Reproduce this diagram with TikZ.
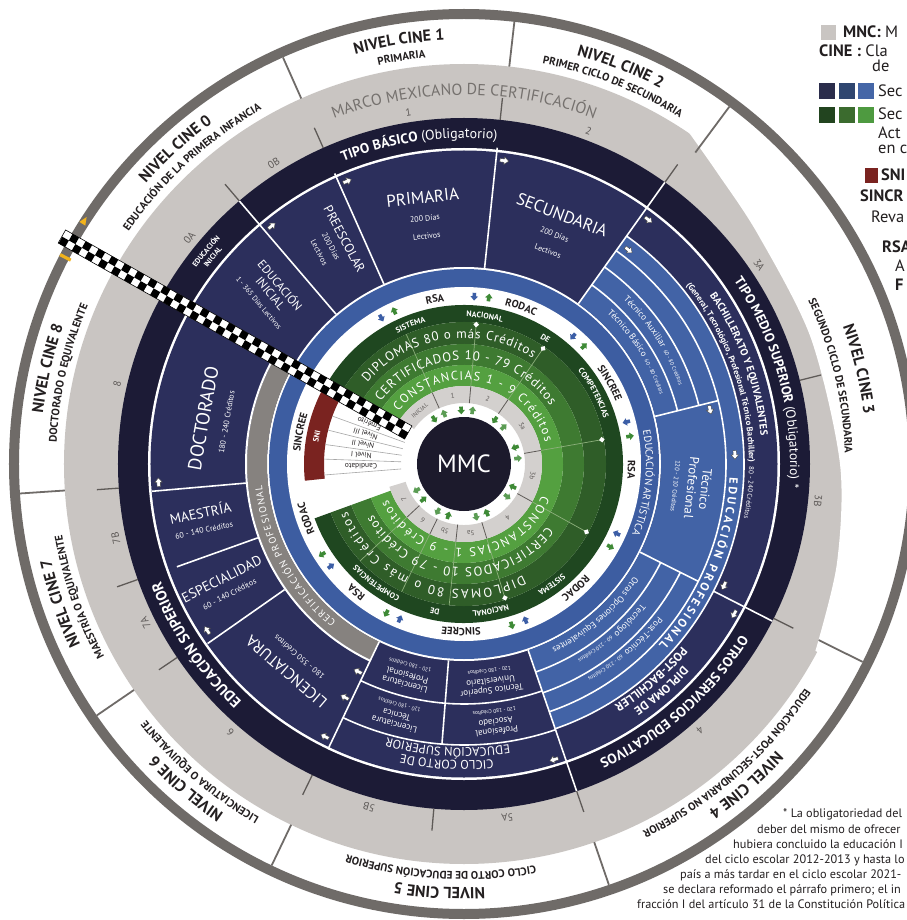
\documentclass[tikz,border=0pt]{standalone}
\usepackage{fontspec}
\setmainfont{PT Sans}
\usetikzlibrary{decorations.text}
\definecolor{ringgray}{HTML}{6F6B68}
\definecolor{lgray}{HTML}{C9C5C2}
\definecolor{sepgray}{HTML}{5E5A57}
\definecolor{tipo}{HTML}{1C1B36}
\definecolor{navy}{HTML}{2C2F5C}
\definecolor{blueA}{HTML}{3D5DA1}
\definecolor{blueB}{HTML}{4263A6}
\definecolor{certgray}{HTML}{86827F}
\definecolor{gsis}{HTML}{1F4720}
\definecolor{gdip}{HTML}{2F5D28}
\definecolor{gcer}{HTML}{3E7A31}
\definecolor{gcon}{HTML}{54A040}
\definecolor{inring}{HTML}{D3D0CE}
\definecolor{mmcc}{HTML}{1C1A2C}
\definecolor{snired}{HTML}{7A2320}
\definecolor{txtdark}{HTML}{231F20}
\definecolor{numgray}{HTML}{5D5957}
\definecolor{marcogray}{HTML}{75716E}
\definecolor{arrblue}{HTML}{3C5EA6}
\definecolor{arrgreen}{HTML}{3E8A36}
\definecolor{glight}{HTML}{8DB07C}
\definecolor{yel}{HTML}{F2B31B}
\definecolor{navyS1}{HTML}{2B2D4C}
\definecolor{navyS2}{HTML}{2F4670}
\definecolor{navyS3}{HTML}{4566A7}
\definecolor{grS1}{HTML}{22441F}
\definecolor{grS2}{HTML}{3B6B2E}
\definecolor{grS3}{HTML}{4E9A40}
\newcommand\fsz[2]{\fontsize{#1}{#2}\selectfont}
\newcommand\annsec[5]{\fill[#1] (#2:#4) arc[start angle=#2,end angle=#3,radius=#4] -- (#3:#5) arc[start angle=#3,end angle=#2,radius=#5] -- cycle;}
\newcommand\atext[5]{\path[decorate,decoration={text along path,text align=center,text color=#4,text={#5}}] ({#2+#3}:#1) arc[start angle={#2+#3},end angle={#2-#3},radius=#1];}
\newcommand\ftext[5]{\path[decorate,decoration={text along path,text align=fit to path,text color=#4,text={#5}}] (#2:#1) arc[start angle=#2,end angle=#3,radius=#1];}
\newcommand\fstext[5]{\path[decorate,decoration={text along path,text align=fit to path stretching spaces,text color=#4,text={#5}}] (#2:#1) arc[start angle=#2,end angle=#3,radius=#1];}
\newcommand\rline[4]{\draw[#1] (#2:#3) -- (#2:#4);}
\newcommand\warr[2]{\begin{scope}[shift={(#1:#2)},rotate={#1-90}]\filldraw[fill=white,draw=black!75,line width=0.4] (-4,-1.7)--(0.3,-1.7)--(0.3,-3.8)--(4.8,0)--(0.3,3.8)--(0.3,1.7)--(-4,1.7)--cycle;\end{scope}}
\newcommand\rarr[4]{\begin{scope}[shift={(#1:#2)},rotate={#1+#4}]\fill[#3] (-3.5,-1.8)--(0,-1.8)--(0,-3.8)--(4.2,0)--(0,3.8)--(0,1.8)--(-3.5,1.8)--cycle;\end{scope}}
\newcommand\wdia[1]{\begin{scope}[shift={(#1:140)},rotate={#1+45}]\fill[white] (-2,-2) rectangle (2,2);\end{scope}}
\tikzset{
  wl/.style={white,line width=1.6},
  sepl/.style={sepgray,line width=1.3},
  cinel/.style={ringgray,line width=1.8},
  numlbl/.style={font=\fsz{10.5}{10.5},text=numgray},
  inlbl/.style={font=\fsz{7}{7},text=numgray},
  navytxt/.style={align=center,text=white},
  lvl/.style={font=\fsz{7.5}{7.5},text=txtdark},
  legtxt/.style={anchor=base west,font=\fsz{16.5}{18},text=txtdark,inner sep=0pt},
  foot/.style={anchor=base west,font=\fsz{12.3}{13},text=txtdark,inner sep=0pt}
}
\begin{document}
\begin{tikzpicture}[x=1bp,y=1bp]
\useasboundingbox (-464,-456) rectangle (443,464);
\clip (-464,-456) rectangle (443,464);
\fill[white] (-464,-456) rectangle (443,464);
% outer ring
\fill[ringgray,even odd rule] (0,0) circle[radius=455] (0,0) circle[radius=445];
% concentric bands
\fill[lgray] (0,0) circle[radius=400];
\fill[white] plot[smooth] coordinates {(56:401) (49:386) (38:373) (20:369) (0:376) (-15:386) (-28:398)} -- (-28:401) arc[start angle=-28,end angle=56,radius=401] -- cycle;
\fill[tipo] (0,0) circle[radius=346];
\fill[white] (0,0) circle[radius=316];
\fill[navy] (0,0) circle[radius=313.5];
\fill[white] (0,0) circle[radius=197];
\fill[blueA] (0,0) circle[radius=195];
\fill[white] (0,0) circle[radius=177];
% navy sub areas
\annsec{blueB}{-71}{54.5}{197}{280}
\annsec{certgray}{150.5}{244.5}{197}{217}
\annsec{white}{150.5}{244.5}{217}{219}
% green disc
\annsec{gsis}{-160}{148.5}{142}{159}
\annsec{gdip}{-160}{148.5}{120}{142}
\annsec{gcer}{-160}{148.5}{99}{120}
\annsec{gcon}{-160}{148.5}{78}{99}
\annsec{inring}{-163}{145}{61}{78}
\annsec{snired}{153}{186}{140}{160}
\fill[mmcc] (0,0) circle[radius=47];
% white separators in navy
\rline{wl}{130.5}{197}{346}
\rline{wl}{114}{197}{318}
\rline{wl}{84}{197}{318}
\rline{wl}{54.5}{197}{346}
\rline{wl}{14}{197}{262}
\rline{wl}{-26.6}{197}{262}
\rline{wl}{-27}{280}{346}
\rline{wl}{-71}{197}{346}
\rline{wl}{265.5}{197}{281}
\rline{wl}{244.5}{197}{316}
\rline{wl}{215}{219}{313}
\rline{wl}{199.7}{219}{305}
\rline{wl}{185}{219}{313}
\draw[wl] (54.5:220) arc[start angle=54.5,end angle=14,radius=220];
\draw[wl] (54.5:242) arc[start angle=54.5,end angle=14,radius=242];
\draw[wl] (-26.6:220) arc[start angle=-26.6,end angle=-71,radius=220];
\draw[wl] (-26.6:242) arc[start angle=-26.6,end angle=-71,radius=242];
\draw[wl] (54.5:262) arc[start angle=54.5,end angle=-71,radius=262];
\draw[wl] (54.5:280) arc[start angle=54.5,end angle=-71,radius=280];
\draw[wl] (244.5:240) arc[start angle=244.5,end angle=289,radius=240];
\draw[wl] (244.5:281) arc[start angle=244.5,end angle=289,radius=281];
% gray band separators
\foreach \a in {130.5,114,84,54.5,14,-26.5,-71,-95,244,214,199.5,184}{\rline{sepl}{\a}{346}{368}}
% CINE band separators
\foreach \a in {114,83.5,-71,244.4,214.4,183.8}{\rline{cinel}{\a}{400}{445}}
\rline{cinel}{53.4}{388}{445}
\rline{cinel}{-26.4}{396}{445}
% inner ring separators and green lines
\foreach \a in {114,85,55.6,10,-29,-73,-96,244,223}{\rline{sepgray,line width=0.8}{\a}{61}{78}\rline{glight,line width=0.7}{\a}{78}{142}}
\foreach \a in {85,55.6,10,-29,-73}{\wdia{\a}}
% SNI level lines
\foreach \a in {160,166,172,178,184.5}{\rline{black!35,line width=0.6}{\a}{63}{140}}
% CINE texts
\atext{424}{132.5}{30}{txtdark}{|\fsz{16}{16}\bfseries|NIVEL CINE 0}
\atext{408}{132.5}{30}{txtdark}{|\fsz{11}{11}\bfseries|EDUCACIÓN DE LA PRIMERA INFANCIA}
\atext{424}{98.75}{30}{txtdark}{|\fsz{16}{16}\bfseries|NIVEL CINE 1}
\atext{408}{98.75}{30}{txtdark}{|\fsz{11}{11}\bfseries|PRIMARIA}
\atext{424}{68.5}{30}{txtdark}{|\fsz{16}{16}\bfseries|NIVEL CINE 2}
\atext{408}{68.5}{30}{txtdark}{|\fsz{11}{11}\bfseries|PRIMER CICLO DE SECUNDARIA}
\atext{403}{13.5}{30}{txtdark}{|\fsz{16}{16}\bfseries|NIVEL CINE 3}
\atext{381}{13.5}{30}{txtdark}{|\fsz{11}{11}\bfseries|SEGUNDO CICLO DE SECUNDARIA}
\atext{424}{-48.7}{30}{txtdark}{|\fsz{16}{16}\bfseries|NIVEL CINE 4}
\atext{408}{-48.7}{30}{txtdark}{|\fsz{11}{11}\bfseries|EDUCACIÓN POST-SECUNDARIA NO SUPERIOR}
\atext{424}{-93.3}{30}{txtdark}{|\fsz{16}{16}\bfseries|NIVEL CINE 5}
\atext{408}{-93.3}{30}{txtdark}{|\fsz{11}{11}\bfseries|CICLO CORTO DE EDUCACIÓN SUPERIOR}
\atext{424}{229.4}{30}{txtdark}{|\fsz{16}{16}\bfseries|NIVEL CINE 6}
\atext{408}{229.4}{30}{txtdark}{|\fsz{11}{11}\bfseries|LICENCIATURA O EQUIVALENTE}
\atext{424}{199.1}{30}{txtdark}{|\fsz{16}{16}\bfseries|NIVEL CINE 7}
\atext{408}{199.1}{30}{txtdark}{|\fsz{11}{11}\bfseries|MAESTRÍA O EQUIVALENTE}
\atext{424}{167.1}{30}{txtdark}{|\fsz{16}{16}\bfseries|NIVEL CINE 8}
\atext{408}{167.1}{30}{txtdark}{|\fsz{11}{11}\bfseries|DOCTORADO O EQUIVALENTE}
% MMC band texts
\atext{369}{90}{40}{marcogray}{|\fsz{16}{16}|MARCO MEXICANO DE CERTIFICACIÓN}
\foreach \a/\t in {140.5/0A,122.3/0B,99/1,69.5/2,34/3A,-6/3B,-48.5/4,-83/5A,-105.5/5B,229/6,206.5/7A,192/7B,167/8}{\node[numlbl,rotate=\a-90] at (\a:356) {\t};}
% dark band texts
\atext{332}{140.5}{10}{white}{|\fsz{7.5}{7.5}\bfseries|EDUCACIÓN}
\atext{323}{140.5}{10}{white}{|\fsz{7.5}{7.5}\bfseries|INICIAL}
\atext{326}{98}{30}{white}{|\fsz{14}{14}\bfseries|TIPO BÁSICO |\fsz{14}{14}\mdseries|(Obligatorio)}
\atext{326}{15}{40}{white}{|\fsz{13.5}{13.5}\bfseries|TIPO MEDIO SUPERIOR |\fsz{13.5}{13.5}\mdseries|(Obligatorio) *}
\atext{325}{-48.5}{30}{white}{|\fsz{14}{14}\bfseries|OTROS SERVICIOS EDUCATIVOS}
\atext{325}{214}{30}{white}{|\fsz{15}{15}\bfseries|EDUCACIÓN SUPERIOR}
% navy section texts
\node[navytxt,rotate=-50,font=\fsz{12}{12.5}] (einic) at (138.5:258) {EDUCACIÓN\\INICIAL\\[1pt]\fsz{7.5}{9}1 - 365 Días Lectivos};
\node[navytxt,rotate=-62,font=\fsz{13}{13.5}] (presc) at (121:255) {PREESCOLAR\\\fsz{8}{9}200 Días\\\fsz{8}{9}Lectivos};
\node[navytxt,rotate=6,font=\fsz{17}{18}] (prim) at (99:252) {PRIMARIA\\\fsz{8}{9}200 Días\\\fsz{8}{9}Lectivos};
\node[navytxt,rotate=-21,font=\fsz{17}{18}] (secu) at (68.5:250) {SECUNDARIA\\\fsz{8}{9}200 Días\\\fsz{8}{9}Lectivos};
\node[navytxt,rotate=80,font=\fsz{19}{20}] (doct) at (170:255) {DOCTORADO\\\fsz{8}{9}180 - 240 Créditos};
\node[navytxt,rotate=12,font=\fsz{14}{15}] (maes) at (192:268) {MAESTRÍA\\\fsz{8}{9}60 - 140 Créditos};
\node[navytxt,rotate=27,font=\fsz{14}{15}] (espe) at (207:268) {ESPECIALIDAD\\\fsz{8}{9}60 - 140 Créditos};
\node[navytxt,rotate=139.5,font=\fsz{16}{17}] (lice) at (229.5:265) {LICENCIATURA\\\fsz{8}{9}180 - 350 Créditos};
\atext{297}{-93.3}{25}{white}{|\fsz{12.5}{12.5}|CICLO CORTO DE}
\atext{284}{-93.3}{25}{white}{|\fsz{12.5}{12.5}|EDUCACIÓN SUPERIOR}
\node[navytxt,rotate=165,font=\fsz{9}{9.5}] (lprof) at (255:219) {Licenciatura\\Profesional\\\fsz{5.5}{7}120 - 180 Créditos};
\node[navytxt,rotate=187,font=\fsz{9}{9.5}] (tsu) at (277:219) {Técnico Superior\\Universitario\\\fsz{5.5}{7}120 - 180 Créditos};
\node[navytxt,rotate=165,font=\fsz{9}{9.5}] (ltec) at (255:260) {Licenciatura\\Técnica\\\fsz{5.5}{7}120 - 180 Créditos};
\node[navytxt,rotate=187,font=\fsz{9}{9.5}] (pasoc) at (277:260) {Profesional\\Asociado\\\fsz{5.5}{7}120 - 180 Créditos};
\atext{208}{33}{25}{white}{|\fsz{9}{9}|Técnico Básico |\fsz{5.5}{6}|  60 - 80 Créditos}
\atext{229}{33}{25}{white}{|\fsz{9}{9}|Técnico Auxiliar |\fsz{5.5}{6}|  60 - 80 Créditos}
\node[navytxt,rotate=-96,font=\fsz{13}{14}] (tprof) at (-6:229) {Técnico\\Profesional\\\fsz{6.5}{8}120 - 210 Créditos};
\atext{204}{-49}{25}{white}{|\fsz{9}{9}|Otras Opciones Equivalentes}
\atext{226}{-49}{25}{white}{|\fsz{9}{9}|Tecnólogo |\fsz{5.5}{6}| 60 - 210 Créditos}
\atext{247}{-49}{25}{white}{|\fsz{9}{9}|Post-Técnico |\fsz{5.5}{6}| 60 - 210 Créditos}
\ftext{266}{-3}{-43}{white}{|\fsz{12}{12}\bfseries|EDUCACIÓN PROFESIONAL}
\atext{182}{-6}{30}{white}{|\fsz{10.5}{10.5}|EDUCACIÓN ARTÍSTICA}
\atext{298}{20}{40}{white}{|\fsz{10.5}{10.5}\bfseries|BACHILLERATO Y EQUIVALENTES}
\atext{285}{14}{45}{white}{|\fsz{8.5}{9}\bfseries|(General, Tecnológico, Profesional Técnico Bachiller) |\fsz{7}{8}\mdseries| 80 - 240 Créditos}
\atext{298}{-49}{25}{white}{|\fsz{12}{12}\bfseries|DIPLOMA DE}
\atext{284}{-49}{25}{white}{|\fsz{12}{12}\bfseries|POST-BACHILLER}
\ftext{203}{231}{186}{white}{|\fsz{10}{10}|CERTIFICACIÓN PROFESIONAL}
% white ring labels
\foreach \a/\t in {100/RSA,70/RODAC,29/SINCREE,-2/RSA,-48/RODAC,-91/SINCREE,230/RSA,199/RODAC,169/SINCREE}{\atext{164}{\a}{15}{txtdark}{|\fsz{10.5}{10.5}\bfseries|\t}}
% green texts
\fstext{147}{117}{18}{white}{|\fsz{8}{8}\bfseries|SISTEMA NACIONAL DE COMPETENCIAS}
\fstext{147}{-48}{-137}{white}{|\fsz{8}{8}\bfseries|SISTEMA NACIONAL DE COMPETENCIAS}
\ftext{126}{140}{57}{white}{|\fsz{13}{13}|DIPLOMAS 80 o más Créditos}
\ftext{104}{143}{34}{white}{|\fsz{13}{13}|CERTIFICADOS 10 - 79 Créditos}
\ftext{84}{141}{15}{white}{|\fsz{12.5}{12.5}|CONSTANCIAS 1 - 9 Créditos}
\ftext{84}{-22}{-155}{white}{|\fsz{12.5}{12.5}|CONSTANCIAS 1 - 9 Créditos}
\ftext{104}{-37}{-151}{white}{|\fsz{13}{13}|CERTIFICADOS 10 - 79 Créditos}
\ftext{126}{-62}{-158}{white}{|\fsz{13}{13}|DIPLOMAS 80 o más Créditos}
% inner ring labels
\node[inlbl,font=\fsz{6}{6},rotate=39.5] at (129.5:69.5) {INICIAL};
\foreach \a/\t in {99.5/1,70/2,33/3a,-9.5/3b,-51/4,-84.5/5a,-106/5b,233.5/6,210/7}{\node[inlbl,rotate=\a-90] at (\a:69.5) {\t};}
% SNI
\atext{147}{169.5}{12}{white}{|\fsz{8}{8}\bfseries|SNI}
\foreach \a/\t in {157/Emérito,163/Nivel III,169/Nivel II,175/Nivel I,181.3/Candidato}{\node[lvl,rotate=\a] at (\a:103) {\t};}
% MMC
\node[text=white,font=\fsz{25}{25}] (mmc) at (0,0) {MMC};
% arrows
\foreach \a/\r in {129/306,112.5/306,82.5/306,53/306,52.5/270,12.5/252,2/271,-25/287,-29/309,-73/309,243/306,243/262,243/233,213/306,183.5/306}{\warr{\a}{\r}}
\foreach \a in {117,84,47,12,-27,-71,245,215}{\rarr{\a+2.5}{168}{arrblue}{180}\rarr{\a-2.5}{168}{arrgreen}{0}}
\foreach \a in {117.5,87,49,12,-31,-71,247,215}{\rarr{\a+6}{54}{arrgreen}{180}\rarr{\a-6}{54}{arrgreen!85!white}{0}}
% checkered band
\begin{scope}[rotate=150.5]
\fill[white] (64,-7.5) rectangle (462,7.5);
\foreach \i in {0,2,...,52}{\fill[black] ({64+\i*7.5},0) rectangle ({71.5+\i*7.5},7.5);}
\foreach \i in {1,3,...,51}{\fill[black] ({64+\i*7.5},-7.5) rectangle ({71.5+\i*7.5},0);}
\draw[black,line width=0.6] (64,-7.5) rectangle (462,7.5);
\end{scope}
\begin{scope}[shift={(147.3:451)},rotate=57.5]
\fill[yel] (-4,-3.5) -- (4,0) -- (-4,3.5) -- cycle;
\end{scope}
\begin{scope}[shift={(152.6:449)},rotate=152.6]
\fill[yel] (-6,-1.6) rectangle (6,1.6);
\end{scope}
% legend
\fill[lgray] (357,424) rectangle (372,439);
\node[legtxt] (l1) at (379,426) {\textbf{MNC:} M};
\node[legtxt] (l2) at (355,407) {\textbf{CINE :} Cla};
\node[legtxt] (l3) at (408,392) {de};
\fill[navyS1] (355,365) rectangle (371,381);
\fill[navyS2] (375,365) rectangle (391,381);
\fill[navyS3] (394,365) rectangle (410,381);
\node[legtxt] (l4) at (414,367) {Sec};
\fill[grS1] (355,341) rectangle (371,357);
\fill[grS2] (375,341) rectangle (391,357);
\fill[grS3] (394,341) rectangle (410,357);
\node[legtxt] (l5) at (414,344) {Sec};
\node[legtxt] (l6) at (414,325) {Act};
\node[legtxt] (l7) at (414,310) {en c};
\fill[snired] (401,281) rectangle (414,296);
\node[legtxt] (l8) at (417,283) {\textbf{SNI}};
\node[legtxt] (l9) at (396,262) {\textbf{SINCR}};
\node[legtxt] (l10) at (407,241) {Reva};
\node[legtxt] (l11) at (418,211) {\textbf{RSA}};
\node[legtxt] (l12) at (431,192) {A};
\node[legtxt] (l13) at (431,173) {\textbf{F}};
% footnote
\node[foot] (f1) at (319,-353) {* La obligatoriedad del};
\node[foot] (f2) at (293,-369) {deber del mismo de ofrecer};
\node[foot] (f3) at (269,-384) {hubiera concluido la educación I};
\node[foot] (f4) at (241,-399) {del ciclo escolar 2012-2013 y hasta lo};
\node[foot] (f5) at (216,-414) {país a más tardar en el ciclo escolar 2021-};
\node[foot] (f6) at (199,-429) {se declara reformado el párrafo primero; el in};
\node[foot] (f7) at (173,-444) {fracción I del artículo 31 de la Constitución Política};
\end{tikzpicture}
\end{document}
